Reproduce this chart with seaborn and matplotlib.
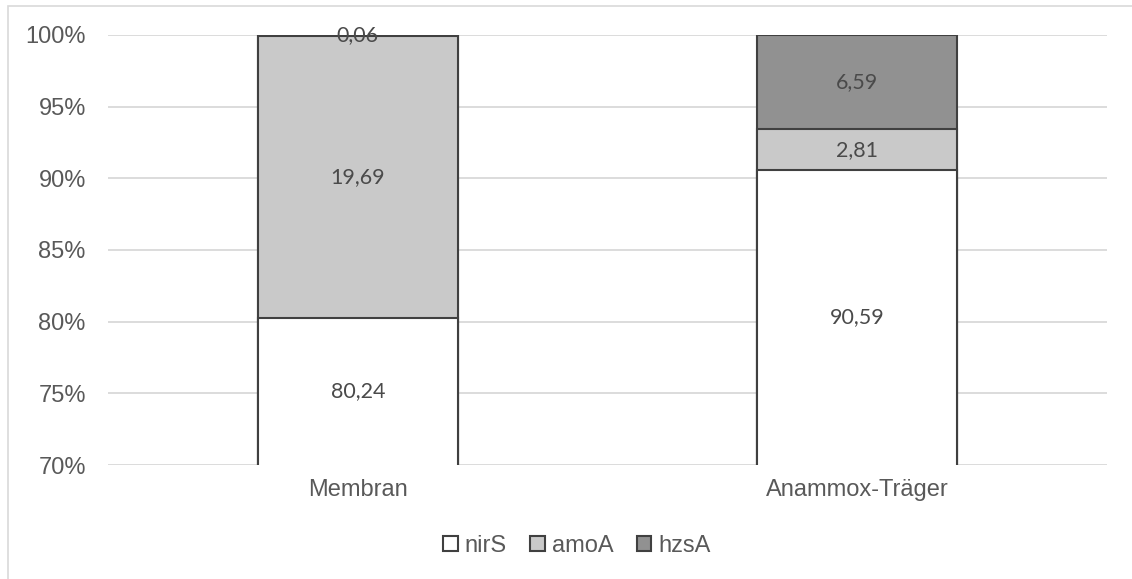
import matplotlib
matplotlib.use("Agg")
import matplotlib.pyplot as plt
import seaborn as sns
import pandas as pd
import numpy as np
from matplotlib.patches import Patch, Rectangle

categories = ["Membran", "Anammox-Träger"]
series = ["nirS", "amoA", "hzsA"]
nirS = [80.24, 90.59]
amoA = [19.69, 2.81]
hzsA = [0.06, 6.59]
label_texts = {"nirS": ["80,24", "90,59"], "amoA": ["19,69", "2,81"], "hzsA": ["0,06", "6,59"]}
yticks = [70, 75, 80, 85, 90, 95, 100]
ytick_labels = ["70%", "75%", "80%", "85%", "90%", "95%", "100%"]

colors = {"nirS": "#ffffff", "amoA": "#c9c9c9", "hzsA": "#919191"}
edge = "#404040"

sns.set_theme(style="white")
plt.rcParams["font.family"] = ["Liberation Sans", "DejaVu Sans"]

vals = np.array([nirS, amoA, hzsA], dtype=float)
pct = vals / vals.sum(axis=0) * 100
cum = np.cumsum(pct, axis=0)

ymin, ymax = 70, 100

fig = plt.figure(figsize=(11.32, 5.79), dpi=100)
ax = fig.add_axes([108/1132, 1-465/579, (1107-108)/1132, (465-35)/579])

# border of chart area
fig.patches.append(Rectangle((8/1132, -0.1), 1.2, 1.1 - 6/579, transform=fig.transFigure,
                             fill=False, edgecolor="#d9d9d9", linewidth=1.2, zorder=0))

for g in yticks:
    ax.axhline(g, color="#d9d9d9", lw=1.3, zorder=0)

# draw from top cumulative to bottom so shorter layers overlay
for i in reversed(range(len(series))):
    df = pd.DataFrame({"cat": categories, "top": cum[i]})
    sns.barplot(data=df, x="cat", y="top", ax=ax, color=colors[series[i]],
                width=0.4, edgecolor=edge, linewidth=1.5, saturation=1, zorder=2)

for i, s in enumerate(series):
    bottoms = cum[i] - pct[i]
    for j in range(len(categories)):
        lo = max(bottoms[j], ymin)
        hi = min(cum[i][j], ymax)
        yc = (lo + hi) / 2
        ax.text(j, yc, label_texts[s][j], ha="center", va="center",
                fontsize=15.5, color="#4a4a4a", family=["Lato", "DejaVu Sans"], zorder=5)

ax.set_ylim(ymin, ymax)
ax.set_xlim(-0.5, 1.5)
ax.set_yticks(yticks)
ax.set_yticklabels(ytick_labels)
ax.set_xlabel("")
ax.set_ylabel("")
ax.tick_params(axis="y", labelsize=17, colors="#595959", length=0, pad=16)
ax.tick_params(axis="x", labelsize=17, colors="#595959", length=0, pad=10)
for sp in ax.spines.values():
    sp.set_visible(False)

handles = [Patch(facecolor=colors[s], edgecolor=edge, linewidth=1.5, label=s) for s in series]
leg = fig.legend(handles=handles, loc="center", bbox_to_anchor=(577/1132, 1-546/579), ncol=3,
                 frameon=False, fontsize=17, handlelength=0.6, handleheight=0.6,
                 handletextpad=0.3, columnspacing=1.0, labelcolor="#595959")

fig.savefig("out.png", dpi=100)
